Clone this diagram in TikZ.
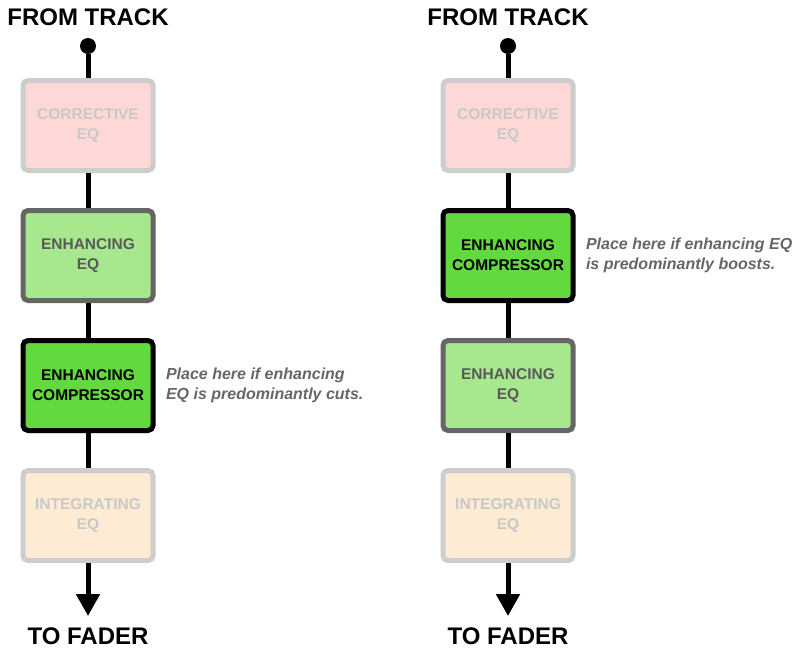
\documentclass[tikz,border=0pt]{standalone}
\usepackage{fontspec}
\setmainfont{Liberation Sans}
\usetikzlibrary{arrows.meta,positioning}

\definecolor{corfill}{HTML}{FDD8D6}
\definecolor{intfill}{HTML}{FDEBD3}
\definecolor{fadeline}{HTML}{CDCDCD}
\definecolor{fadetext}{HTML}{C8C8C8}
\definecolor{eqfill}{HTML}{A7E88E}
\definecolor{eqline}{HTML}{666666}
\definecolor{eqtext}{HTML}{595959}
\definecolor{compfill}{HTML}{62D93C}
\definecolor{notegray}{HTML}{666666}

\begin{document}
\begin{tikzpicture}[x=1pt, y=-1pt, >={Triangle[length=22pt, width=23pt]},
	every node/.style={font=\bfseries\fontsize{15.5}{20}\selectfont, align=center},
	stage/.style={draw, line width=5pt, rounded corners=5pt, minimum width=130pt, minimum height=90pt, inner sep=0pt},
	faded/.style={stage, draw=fadeline, text=fadetext},
	eqstage/.style={stage, draw=eqline, fill=eqfill, text=eqtext},
	compstage/.style={stage, draw=black, fill=compfill, text=black},
	wire/.style={line width=5pt},
	endpoint/.style={circle, fill=black, inner sep=0pt, minimum size=16pt},
	caption/.style={font=\bfseries\fontsize{24}{28}\selectfont},
	note/.style={font=\bfseries\itshape\fontsize{16}{20}\selectfont, text=notegray, align=left, anchor=west}]
	\useasboundingbox (0,0) rectangle (799,653);

	% left chain: compressor after the EQ
	\node[caption] (L-from) at (88,17) {FROM TRACK};
	\node[endpoint] (L-in) at (88,46) {};
	\node[faded, fill=corfill] (L-cor) at (88,125.5) {CORRECTIVE\\EQ};
	\node[eqstage, below=35pt of L-cor] (L-eq) {ENHANCING\\EQ};
	\node[compstage, below=35pt of L-eq] (L-comp) {ENHANCING\\COMPRESSOR};
	\node[faded, fill=intfill, below=35pt of L-comp] (L-int) {INTEGRATING\\EQ};
	\coordinate (L-out) at (88,616);
	\node[caption] (L-to) at (88,636) {TO FADER};
	\node[note, right=7pt of L-comp] (L-note) {Place here if enhancing\\EQ is predominantly cuts.};
	\draw[wire] (L-in) -- (L-cor);
	\draw[wire] (L-cor) -- (L-eq);
	\draw[wire] (L-eq) -- (L-comp);
	\draw[wire] (L-comp) -- (L-int);
	\draw[wire, ->] (L-int) -- (L-out);

	% right chain: compressor before the EQ
	\node[caption] (R-from) at (508,17) {FROM TRACK};
	\node[endpoint] (R-in) at (508,46) {};
	\node[faded, fill=corfill] (R-cor) at (508,125.5) {CORRECTIVE\\EQ};
	\node[compstage, below=35pt of R-cor] (R-comp) {ENHANCING\\COMPRESSOR};
	\node[eqstage, below=35pt of R-comp] (R-eq) {ENHANCING\\EQ};
	\node[faded, fill=intfill, below=35pt of R-eq] (R-int) {INTEGRATING\\EQ};
	\coordinate (R-out) at (508,616);
	\node[caption] (R-to) at (508,636) {TO FADER};
	\node[note, right=7pt of R-comp] (R-note) {Place here if enhancing EQ\\is predominantly boosts.};
	\draw[wire] (R-in) -- (R-cor);
	\draw[wire] (R-cor) -- (R-comp);
	\draw[wire] (R-comp) -- (R-eq);
	\draw[wire] (R-eq) -- (R-int);
	\draw[wire, ->] (R-int) -- (R-out);
\end{tikzpicture}
\end{document}
